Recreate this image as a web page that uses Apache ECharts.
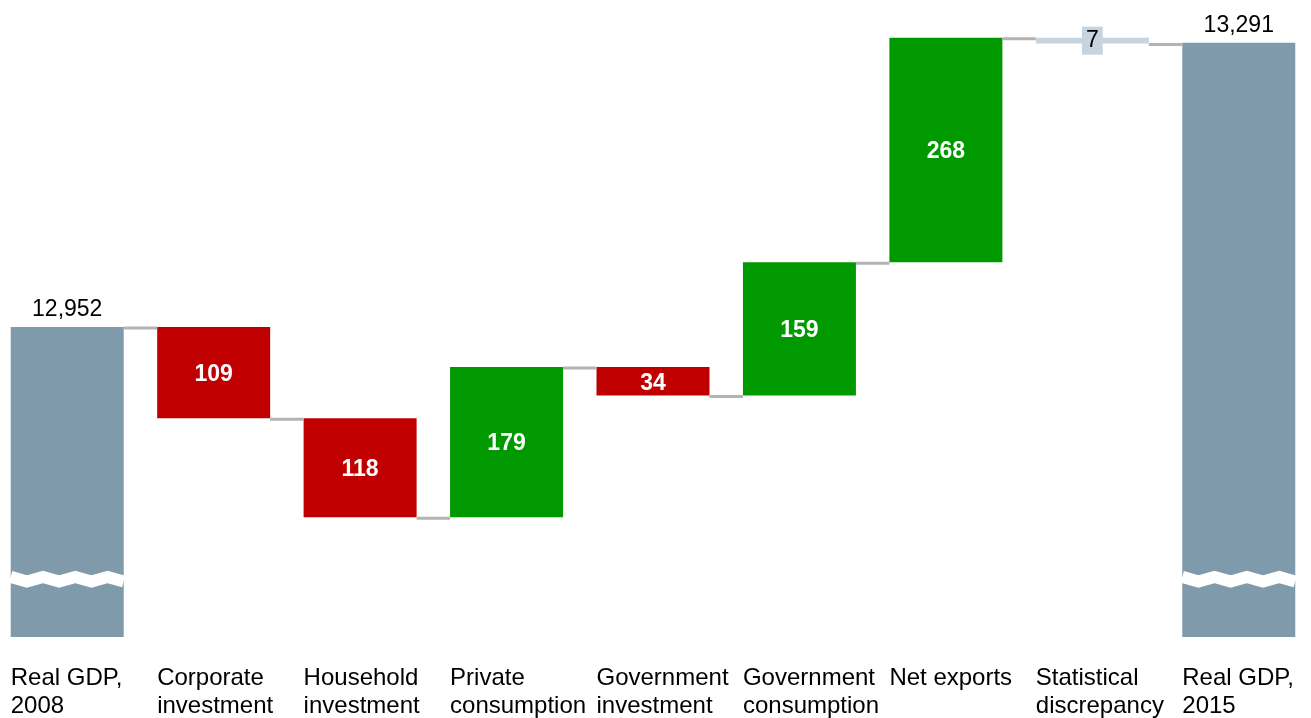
<!DOCTYPE html>
<html>
<head>
<meta charset="utf-8">
<script src="https://cdn.jsdelivr.net/npm/echarts@6/dist/echarts.min.js"></script>
<style>
  html, body { margin: 0; padding: 0; background: #fff; }
  #chart { width: 1311px; height: 718px; }
</style>
</head>
<body>
<div id="chart"></div>
<script>
// categories and values
const categories = [
    'Real GDP,\n2008', 'Corporate\ninvestment', 'Household\ninvestment',
    'Private\nconsumption', 'Government\ninvestment', 'Government\nconsumption',
    'Net exports', 'Statistical\ndiscrepancy', 'Real GDP,\n2015'
];
const startTotal = 12952;
const endTotal = 13291;
// changes between the two totals (category 1..7)
const changes = [-109, -118, 179, -34, 159, 268, -7];
const changeKinds = ['down', 'down', 'up', 'down', 'up', 'up', 'disc'];
// value where the axis break is drawn on the total bars
const breakValue = 12651;

const FONT = 'Liberation Sans, Arial, sans-serif';
const BAR_W = 113;

// build the stacked waterfall from the values above
let baseData = ['-'], upData = ['-'], downData = ['-'], discData = ['-'], totalData = [startTotal];
let levels = [startTotal];
let level = startTotal;
changes.forEach((c, i) => {
    let next = level + c;
    baseData.push(Math.min(level, next));
    upData.push(changeKinds[i] === 'up' ? Math.abs(c) : '-');
    downData.push(changeKinds[i] === 'down' ? Math.abs(c) : '-');
    discData.push(changeKinds[i] === 'disc' ? Math.abs(c) : '-');
    totalData.push('-');
    level = next;
    levels.push(level);
});
baseData.push('-'); upData.push('-'); downData.push('-'); discData.push('-');
totalData.push(endTotal);

let connectorData = levels.map((v, i) => [i, v]);
let breakData = [[0, breakValue], [categories.length - 1, breakValue]];

let myChart = echarts.init(document.getElementById('chart'));

let deltaLabel = {
    show: true,
    position: 'inside',
    offset: [0, 2],
    color: '#fff',
    fontFamily: FONT,
    fontSize: 23,
    fontWeight: 'bold'
};

let option = {
    animation: false,
    backgroundColor: '#fff',
    grid: { left: -6, right: -1, top: 0, bottom: 81, outerBoundsMode: 'none' },
    xAxis: {
        type: 'category',
        data: categories,
        axisLine: { show: false },
        axisTick: { show: false },
        axisLabel: {
            interval: 0,
            align: 'left',
            verticalAlign: 'top',
            margin: 27,
            padding: [0, 0, 0, -BAR_W / 2],
            color: '#000',
            fontFamily: FONT,
            fontSize: 24,
            lineHeight: 28
        }
    },
    yAxis: {
        type: 'value',
        min: 12582,
        max: 13342,
        show: false,
        splitLine: { show: false }
    },
    series: [
        {
            name: 'base', type: 'bar', stack: 'w', barWidth: BAR_W,
            itemStyle: { color: 'transparent' },
            data: baseData
        },
        {
            name: 'total', type: 'bar', stack: 'w', barWidth: BAR_W,
            itemStyle: { color: '#7f9bab' },
            label: {
                show: true, position: 'top', distance: 6,
                color: '#000', fontFamily: FONT, fontSize: 23,
                formatter: p => p.value.toLocaleString('en-US')
            },
            data: totalData
        },
        {
            name: 'down', type: 'bar', stack: 'w', barWidth: BAR_W,
            itemStyle: { color: '#c00000' },
            label: deltaLabel,
            data: downData
        },
        {
            name: 'up', type: 'bar', stack: 'w', barWidth: BAR_W,
            itemStyle: { color: '#009900' },
            label: deltaLabel,
            data: upData
        },
        {
            name: 'disc', type: 'bar', stack: 'w', barWidth: BAR_W,
            itemStyle: { color: '#c5d4de' },
            label: {
                show: true, position: 'inside',
                color: '#000', fontFamily: FONT, fontSize: 23, lineHeight: 24,
                backgroundColor: '#c5d4de', padding: [2, 4]
            },
            data: discData
        },
        {
            // connector lines between neighbouring bars
            name: 'connector', type: 'custom', z: 5,
            renderItem: function (params, api) {
                let p = api.coord([api.value(0), api.value(1)]);
                let band = api.size([1, 0])[0];
                return {
                    type: 'line',
                    shape: { x1: p[0] + BAR_W / 2, y1: p[1] + 1, x2: p[0] + band - BAR_W / 2, y2: p[1] + 1 },
                    style: { stroke: '#b3b3b3', lineWidth: 3 }
                };
            },
            data: connectorData
        },
        {
            // zigzag axis break on the total bars
            name: 'break', type: 'custom', z: 10,
            renderItem: function (params, api) {
                let p = api.coord([api.value(0), api.value(1)]);
                let pts = [];
                let step = BAR_W / 7;
                for (let k = 0; k <= 7; k++) {
                    pts.push([p[0] - BAR_W / 2 + k * step, p[1] + (k % 2 === 0 ? -2.3 : 2.3)]);
                }
                return {
                    type: 'polyline',
                    shape: { points: pts },
                    style: { stroke: '#fff', lineWidth: 12, fill: null, lineJoin: 'miter' }
                };
            },
            data: breakData
        }
    ]
};

myChart.setOption(option);
</script>
</body>
</html>
